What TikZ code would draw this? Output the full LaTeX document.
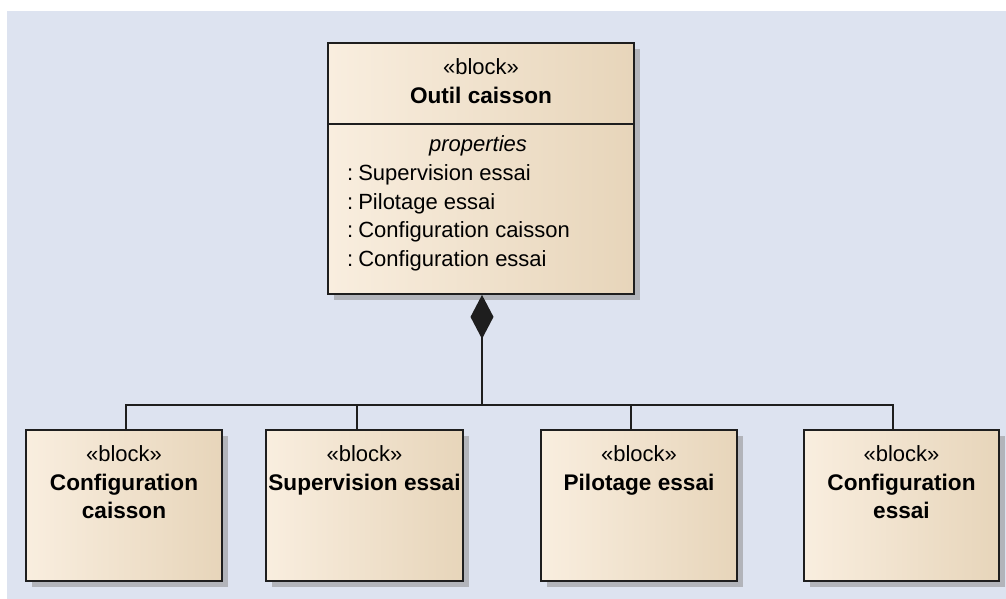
\documentclass[tikz,border=0pt]{standalone}
\usepackage{fontspec}
\setmainfont{Liberation Sans}
\usetikzlibrary{arrows.meta,shadows}
\definecolor{bg}{HTML}{DDE3F0}
\definecolor{creamL}{HTML}{F9EEDF}
\definecolor{creamM}{HTML}{FCF4E9}
\definecolor{creamR}{HTML}{E7D5BA}
\definecolor{shadowc}{HTML}{B2B4BA}
\definecolor{edge}{HTML}{1E1E1E}
\tikzset{
  blk/.style={draw=edge, line width=1.8pt, rectangle, inner sep=0pt,
    left color=creamL, middle color=creamM, right color=creamR,
    drop shadow={shadow xshift=6pt, shadow yshift=-6pt, fill=shadowc, opacity=1}},
  reg/.style={anchor=base, inner sep=0pt, font=\fontsize{22}{26}\selectfont},
  bld/.style={anchor=base, inner sep=0pt, font=\fontsize{22.6}{26}\selectfont\bfseries},
  itl/.style={anchor=base, inner sep=0pt, font=\fontsize{22}{26}\selectfont\itshape},
  lst/.style={anchor=base west, inner sep=0pt, font=\fontsize{22}{26}\selectfont},
  conn/.style={draw=edge, line width=1.8pt}
}
\begin{document}
\begin{tikzpicture}[x=1pt,y=-1pt]
\fill[white] (0,0) rectangle (1006,599);
\useasboundingbox (0,0) rectangle (1006,599);
\fill[bg] (7,11) rectangle (1006,599);

% top block
\node[blk, minimum width=306pt, minimum height=251pt] (top) at (481,168.5) {};
\coordinate (sepy) at (0,124);
\draw[conn] (top.west |- sepy) -- (top.east |- sepy);
\node[reg] (tst) at (481,75) {«block»};
\node[bld] (tname) at (481,104) {Outil caisson};
\node[itl] (tprop) at (478,151.7) {properties};
\node[lst] (p1) at (347,180.5) {:\kern5pt Supervision essai};
\node[lst] (p2) at (347,209.1) {:\kern5pt Pilotage essai};
\node[lst] (p3) at (347,237.7) {:\kern5pt Configuration caisson};
\node[lst] (p4) at (347,266.3) {:\kern5pt Configuration essai};

% children
\node[blk, minimum width=196pt, minimum height=151pt] (c1) at (124,505.5) {};
\node[blk, minimum width=197pt, minimum height=151pt] (c2) at (364.5,505.5) {};
\node[blk, minimum width=196pt, minimum height=151pt] (c3) at (639,505.5) {};
\node[blk, minimum width=195pt, minimum height=151pt] (c4) at (901.5,505.5) {};

\node[reg] (s1) at (124,461.7) {«block»};
\node[bld] (n1a) at (124,490) {Configuration};
\node[bld] (n1b) at (124,518.3) {caisson};
\node[reg] (s2) at (364.5,461.7) {«block»};
\node[bld] (n2) at (364.5,490) {Supervision essai};
\node[reg] (s3) at (639,461.7) {«block»};
\node[bld] (n3) at (639,490) {Pilotage essai};
\node[reg] (s4) at (901.5,461.7) {«block»};
\node[bld] (n4a) at (901.5,490) {Configuration};
\node[bld] (n4b) at (901.5,518.3) {essai};

% connectors
\coordinate (bus) at (482,405);
\coordinate (j1) at (126,405);
\coordinate (j2) at (357,405);
\coordinate (j3) at (631,405);
\coordinate (j4) at (893,405);
\draw[conn] (j1 |- c1.north) -- (j1) -- (j4) -- (j4 |- c4.north);
\draw[conn] (j2) -- (j2 |- c2.north);
\draw[conn] (j3) -- (j3 |- c3.north);
\draw[conn, {Diamond[length=44pt,width=23pt]}-] (bus |- top.south) -- (bus);
\end{tikzpicture}
\end{document}
